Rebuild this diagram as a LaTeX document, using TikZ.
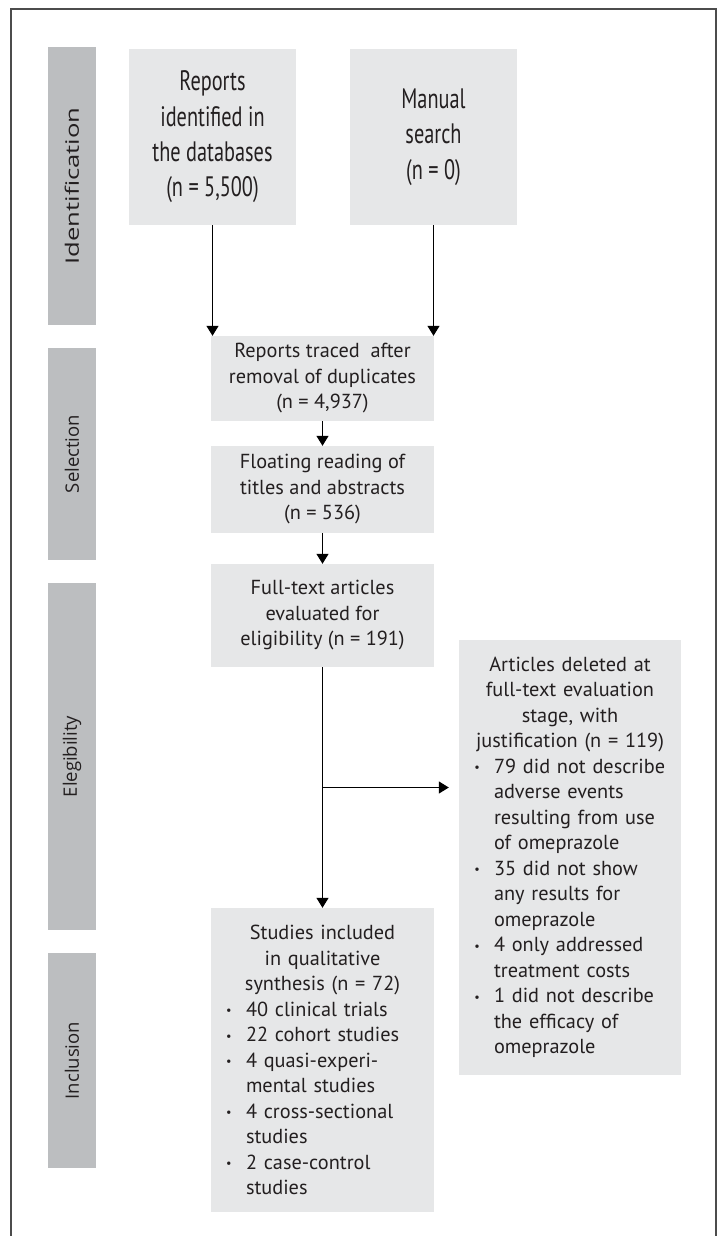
\documentclass[tikz,border=0pt]{standalone}
\usepackage{fontspec}
\setmainfont{PT Sans}
\newfontfamily\phasefont{Open Sans}
\usetikzlibrary{arrows.meta}
\definecolor{boxgray}{HTML}{E6E7E8}
\definecolor{bargray}{HTML}{BCBEC0}
\definecolor{inkgray}{HTML}{231F20}
\newcommand{\bitem}{\par\noindent\llap{\makebox[34pt][c]{\raisebox{1.5pt}{\scalebox{0.6}{\textbullet}}}}}
\newcommand{\blist}{\par\leftskip=35pt\rightskip=0pt plus 1fil\parindent=0pt}
\tikzset{
 phase/.style={fill=bargray,rotate=90,minimum height=48pt,inner sep=0pt,text=inkgray,
  font=\phasefont\fontsize{18.5}{20}\selectfont},
 stage/.style={fill=boxgray,inner sep=0pt,text=inkgray,align=center,
  font=\fontsize{20.3}{25.5}\selectfont},
 listbox/.style={fill=boxgray,inner sep=0pt,text=inkgray,text width=222pt,
  font=\fontsize{20.3}{25.5}\selectfont},
 flow/.style={line width=1.3pt,-{Triangle[width=12pt,length=10pt]}},
 frame/.style={line width=1.5pt,gray!60!black}
}
\begin{document}
\begin{tikzpicture}[x=1pt,y=-1pt]
 \useasboundingbox (0,0) rectangle (723,1236);
 \draw[frame] (11,1236) -- (11,9) -- (716,9) -- (716,1236);
 \begin{scope}[shift={(0,47)},yscale=1.386,transform shape]
  \node[phase,minimum width=200.6pt] (idbar) at (72,100.3) {Identification};
  \node[stage,minimum width=167pt,minimum height=127pt] (reports) at (212.5,64.9)
   {Reports\\identified in\\the databases\\(n = 5,500)};
  \node[stage,minimum width=167pt,minimum height=127pt] (manual) at (433.5,64.9)
   {Manual\\search\\(n = 0)};
 \end{scope}
 \node[phase,minimum width=212pt] (selbar) at (72,454) {Selection};
 \node[phase,minimum width=347pt] (eligbar) at (72,756.5) {Elegibility};
 \node[phase,minimum width=215pt] (inclbar) at (72,1060.5) {Inclusion};
 \node[stage,minimum width=223pt,minimum height=85pt] (traced) at (322.5,378.5)
  {Reports traced~ after\\removal of duplicates\\(n = 4,937)};
 \node[stage,minimum width=223pt,minimum height=87pt] (floating) at (322.5,489.5)
  {Floating reading of\\titles and abstracts\\(n = 536)};
 \node[stage,minimum width=223pt,minimum height=103pt] (fulltext) at (322.5,615.5)
  {Full-text articles\\evaluated for\\eligibility (n = 191)};
 \node[listbox,minimum height=435pt] (deleted) at (570,857.5) {%
  {\centering Articles deleted at\\full-text evaluation\\stage, with\\justification (n = 119)\par}
  \blist
  \bitem 79 did not describe\\adverse events\\resulting from use\\of omeprazole
  \bitem 35 did not show\\any results for\\omeprazole
  \bitem 4 only addressed\\treatment costs
  \bitem 1 did not describe\\the efficacy of\\omeprazole\par};
 \node[listbox,text width=223pt,minimum height=304pt] (studies) at (322.5,1060) {%
  {\centering Studies included\\in qualitative\\synthesis (n = 72)\par}
  \blist
  \bitem 40 clinical trials
  \bitem 22 cohort studies
  \bitem 4 quasi-experi-\\mental studies
  \bitem 4 cross-sectional\\studies
  \bitem 2 case-control\\studies\par};
 \coordinate (split) at (322.5,787.5);
 \draw[flow] (reports.south) -- (reports.south |- traced.north);
 \draw[flow] (manual.south) -- (manual.south |- traced.north);
 \draw[flow] (traced) -- (floating);
 \draw[flow] (floating) -- (fulltext);
 \draw[flow] (fulltext) -- (studies);
 \draw[flow,shorten >=10pt] (split) -- (split -| deleted.west);
\end{tikzpicture}
\end{document}
